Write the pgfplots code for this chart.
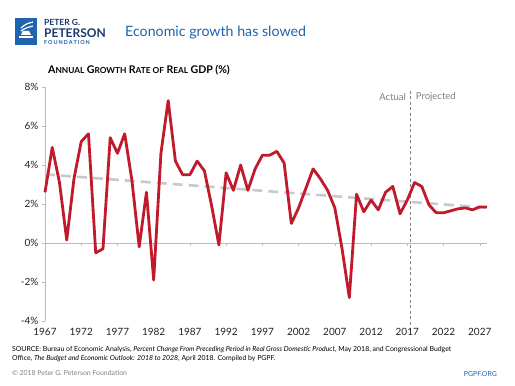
\documentclass[border=0pt]{standalone}
\usepackage{pgfplots}
\pgfplotsset{compat=1.18}
\usepackage{fontspec}
\setmainfont{Lato}
\definecolor{gdpred}{HTML}{C01A2C}
\definecolor{trendgray}{HTML}{C9C9C9}
\definecolor{navy}{HTML}{1B3A6B}
\definecolor{titleblue}{HTML}{1F64AE}
\definecolor{axgray}{HTML}{BBBBBB}
\definecolor{txtgray}{HTML}{222222}
\newcommand{\fsc}[2]{{\fontsize{10.6}{11}\selectfont #1}{\fontsize{8.3}{9}\selectfont #2}}
\begin{document}
\begin{tikzpicture}
\begin{scope}[x=1pt,y=1pt]
\path[fill=white] (0,0) rectangle (515,386);
% logo
\fill[titleblue] (15,341) rectangle (37,368);
\fill[white] (19,348) rectangle (33,350);
\fill[white] (21,351) -- (31,351) -- (29,355) -- (23,355) -- cycle;
\draw[white,line width=1.2pt] (21,358) .. controls (25,362) and (29,363) .. (33,364);
\draw[white,line width=1.2pt] (21,355) .. controls (25,358) and (29,359) .. (33,360);
\node[anchor=west,inner sep=0,text=navy,font=\bfseries\fontsize{8.5}{9}\selectfont] at (44,364) {PETER G.};
\node[anchor=west,inner sep=0,text=navy,font=\bfseries\fontsize{12}{12}\selectfont] at (44,353) {PETERSON};
\node[anchor=west,inner sep=0,text=titleblue,font=\bfseries\fontsize{5.5}{6}\selectfont] at (44,343.5) {F\,O\,U\,N\,D\,A\,T\,I\,O\,N};
\node[anchor=west,inner sep=0,text=titleblue,font=\fontsize{14.2}{15}\selectfont] at (125,353) {Economic growth has slowed};
% subtitle
\node[anchor=west,inner sep=0,text=black,font=\bfseries] at (48,316) {\fsc{A}{NNUAL} \fsc{G}{ROWTH} \fsc{R}{ATE OF} \fsc{R}{EAL} \fsc{GDP}{} \fsc{(\%)}{}};
% footer
\node[anchor=north west,inner sep=0,align=left,text=black,font=\fontsize{6.9}{8.8}\selectfont] at (12,39.5)
{SOURCE: Bureau of Economic Analysis, \textit{Percent Change From Preceding Period in Real Gross Domestic Product}, May 2018, and Congressional Budget\\ Office, \textit{The Budget and Economic Outlook: 2018 to 2028}, April 2018. Compiled by PGPF.};
\node[anchor=west,inner sep=0,text=gray,font=\fontsize{6.9}{7}\selectfont] at (12,13) {\textcopyright{} 2018 Peter G. Peterson Foundation};
\node[anchor=east,inner sep=0,text=titleblue,font=\fontsize{6.9}{7}\selectfont] at (497,12) {PGPF.ORG};
\end{scope}
\begin{axis}[at={(45pt,65pt)},anchor=south west,scale only axis,
  width=442pt,height=234pt,
  xmin=1967,xmax=2028,ymin=-4,ymax=8,
  axis lines=left, axis line style={-,axgray},
  x axis line style={draw=none},
  xtick={1967,1972,...,2027}, xtick style={draw=none},
  ytick={-4,-2,...,8}, ytick style={axgray}, tick align=outside, major tick length=3pt,
  yticklabel={\pgfmathprintnumber{\tick}\%},
  /pgf/number format/assume math mode=true,
  xticklabel style={/pgf/number format/1000 sep=, font=\fontsize{10}{11}\selectfont, text=txtgray, yshift=-1pt},
  yticklabel style={font=\fontsize{10}{11}\selectfont, text=txtgray},
  clip=false,
]
\draw[axgray] (axis cs:1967,0) -- (axis cs:2028,0);
\pgfplotsinvokeforeach{1972,1977,...,2027}{\draw[axgray] (axis cs:#1,0) -- ++(0pt,-3pt);}
\draw[gray,line width=0.9pt,dash pattern=on 3pt off 2.5pt] (axis cs:2017.5,-4.2) -- (axis cs:2017.5,7.8);
\node[anchor=east,text=gray,font=\fontsize{9.5}{10}\selectfont] at (axis cs:2017.3,7.5) {Actual};
\node[anchor=west,text=gray,font=\fontsize{9.5}{10}\selectfont] at (axis cs:2017.7,7.5) {Projected};
\addplot[trendgray,line width=2.6pt,dash pattern=on 10pt off 6pt] coordinates {(1967,3.52) (2028,1.81)};
\addplot[gdpred,line width=2.8pt,line join=round] coordinates {
(1967,2.6) (1968,4.9) (1969,3.1) (1970,0.15) (1971,3.3) (1972,5.2) (1973,5.6) (1974,-0.5) (1975,-0.3)
(1976,5.4) (1977,4.6) (1978,5.6) (1979,3.2) (1980,-0.2) (1981,2.6) (1982,-1.9) (1983,4.6) (1984,7.3)
(1985,4.2) (1986,3.5) (1987,3.5) (1988,4.2) (1989,3.7) (1990,1.9) (1991,-0.1) (1992,3.6) (1993,2.7)
(1994,4.0) (1995,2.7) (1996,3.8) (1997,4.5) (1998,4.5) (1999,4.7) (2000,4.1) (2001,1.0) (2002,1.8)
(2003,2.8) (2004,3.8) (2005,3.3) (2006,2.7) (2007,1.8) (2008,-0.3) (2009,-2.8) (2010,2.5) (2011,1.6)
(2012,2.2) (2013,1.7) (2014,2.6) (2015,2.9) (2016,1.5) (2017,2.2) (2018,3.1) (2019,2.9) (2020,1.95)
(2021,1.55) (2022,1.55) (2023,1.65) (2024,1.75) (2025,1.8) (2026,1.7) (2027,1.85) (2028,1.85)};
\end{axis}
\end{tikzpicture}
\end{document}
